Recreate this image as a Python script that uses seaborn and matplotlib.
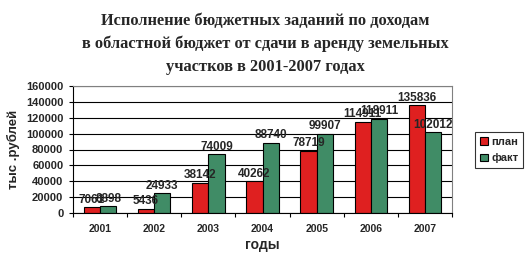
import matplotlib
matplotlib.use("Agg")
import matplotlib.pyplot as plt
import seaborn as sns
import pandas as pd
import numpy as np

years = ["2001", "2002", "2003", "2004", "2005", "2006", "2007"]
plan = [7061, 5436, 38142, 40262, 78719, 114911, 135836]
fact = [8898, 24933, 74009, 88740, 99907, 118911, 102012]
series = ["план", "факт"]
title = "Исполнение бюджетных заданий по доходам\nв областной бюджет от сдачи в аренду земельных\nучастков в 2001-2007 годах"

df = pd.DataFrame({
    "год": years * 2,
    "value": plan + fact,
    "series": [series[0]] * len(years) + [series[1]] * len(years),
})

sns.set_style("white")
plt.rcParams['font.family'] = ['Liberation Sans', 'DejaVu Sans']

fig = plt.figure(figsize=(5.31, 2.64), dpi=100)
ax = fig.add_axes([73/531, 1-213/264, (452-73)/531, (213-86)/264])

sns.barplot(data=df, x="год", y="value", hue="series",
            palette=["#FF0000", "#339966"], width=0.6,
            edgecolor="black", linewidth=0.8, ax=ax, legend=True)

ax.set_ylim(0, 160000)
ax.set_xlim(-0.5, len(years) - 0.5)
ax.set_yticks(np.arange(0, 160001, 20000))
ax.yaxis.grid(True, color="black", linewidth=0.8)
ax.set_axisbelow(True)
ax.tick_params(axis="y", labelsize=8, length=3, width=0.8, color="black", left=True, pad=4)
for lab in ax.get_yticklabels():
    lab.set_fontweight("bold")
ax.tick_params(axis="x", which="major", labelsize=7.5, length=0, pad=8)
for lab in ax.get_xticklabels():
    lab.set_fontweight("bold")
ax.set_xticks(np.arange(-0.5, len(years)), minor=True)
ax.tick_params(axis="x", which="minor", length=3, width=0.8, color="black", bottom=True)

for side in ["top", "right"]:
    ax.spines[side].set_color("#808080")
    ax.spines[side].set_linewidth(0.8)
for side in ["left", "bottom"]:
    ax.spines[side].set_color("black")
    ax.spines[side].set_linewidth(0.8)

for cont in ax.containers:
    ax.bar_label(cont, fmt="%d", fontsize=8.5, fontweight="bold", padding=1)

ax.set_xlabel("годы", fontsize=10, fontweight="bold", labelpad=3)
ax.set_ylabel("тыс .рублей", fontsize=9.5, fontweight="bold", labelpad=4)

leg = ax.legend(loc="center left", bbox_to_anchor=(475/531, 1-150/264),
                bbox_transform=fig.transFigure, frameon=True, fancybox=False,
                prop={"weight": "bold", "size": 8},
                handlelength=0.7, handleheight=0.7, handletextpad=0.3,
                borderpad=0.45, labelspacing=0.6, edgecolor="black",
                borderaxespad=0)
leg.get_frame().set_linewidth(0.8)

fig.text(265/531, 1-44/264, title, ha="center", va="center",
         family=["Liberation Serif"], fontsize=11.8, fontweight="bold",
         linespacing=1.55)

fig.savefig("out.png", dpi=100)
